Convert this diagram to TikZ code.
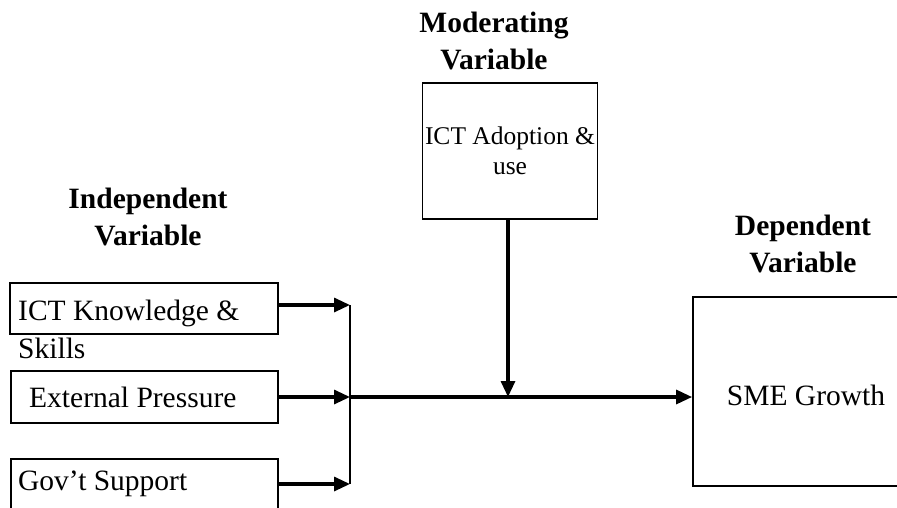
\documentclass[tikz,border=0pt]{standalone}
\usepackage{fontspec}
\setmainfont{Liberation Serif}
\usetikzlibrary{arrows.meta}
\begin{document}
\begin{tikzpicture}[x=1pt,y=-1pt,
  boxst/.style={draw=black,line width=1.8pt,inner sep=0pt,minimum width=#1},
  head/.style={font=\fontsize{29.5}{37}\selectfont\bfseries,align=center,inner sep=0pt},
  txt/.style={font=\fontsize{29.5}{35}\selectfont,inner sep=0pt},
  thick arrow/.style={line width=3.2pt,-{Triangle[length=16pt,width=14pt]}},
  thin line/.style={line width=1.6pt}]
\path[use as bounding box] (0,0) rectangle (897,507);
\clip (0,0) rectangle (897,507);
% headings
\node[head] (hmod) at (494,41) {Moderating\\Variable};
\node[head] (hind) at (148,217) {Independent\\Variable};
\node[head] (hdep) at (803,244) {Dependent\\Variable};
% boxes
\node[boxst=268pt,minimum height=51pt] (ick) at (144,308.5) {};
\node[txt,anchor=west] (ickt1) at (18,313) {ICT Knowledge \&};
\node[txt,anchor=west] (ickt2) at (18,348) {Skills};
\node[boxst=267pt,minimum height=52pt] (ext) at (144.5,397) {};
\node[txt,anchor=west] (extt) at (29,397) {External Pressure};
\node[boxst=267pt,minimum height=100pt] (gov) at (144.5,509) {};
\node[txt,anchor=west] (govt) at (18,484) {Gov’t Support};
\node[boxst=175pt,minimum height=136pt] (mod) at (510,151) {};
\node[font=\fontsize{25.5}{30}\selectfont,align=center,inner sep=0pt] (modt) at (510,151) {ICT Adoption \&\\use};
\node[boxst=280pt,minimum height=189pt] (sme) at (833,391.5) {};
\node[txt] (smet) at (806,395) {SME Growth};
% junctions
\coordinate (jt) at (350,305);
\coordinate (jm) at (350,397);
\coordinate (jb) at (350,484);
\coordinate (mj) at (508,397);
% connectors
\draw[thick arrow] (ick.east |- jt) -- (jt);
\draw[thick arrow] (ext.east) -- (jm);
\draw[thick arrow] (gov.east |- jb) -- (jb);
\draw[thin line] (jt) -- (jb);
\draw[line width=3.2pt] (jm) -- (mj);
\draw[thick arrow] (mj) -- (sme.west |- mj);
\draw[thick arrow] (mod.south -| mj) -- (mj);
\end{tikzpicture}
\end{document}
